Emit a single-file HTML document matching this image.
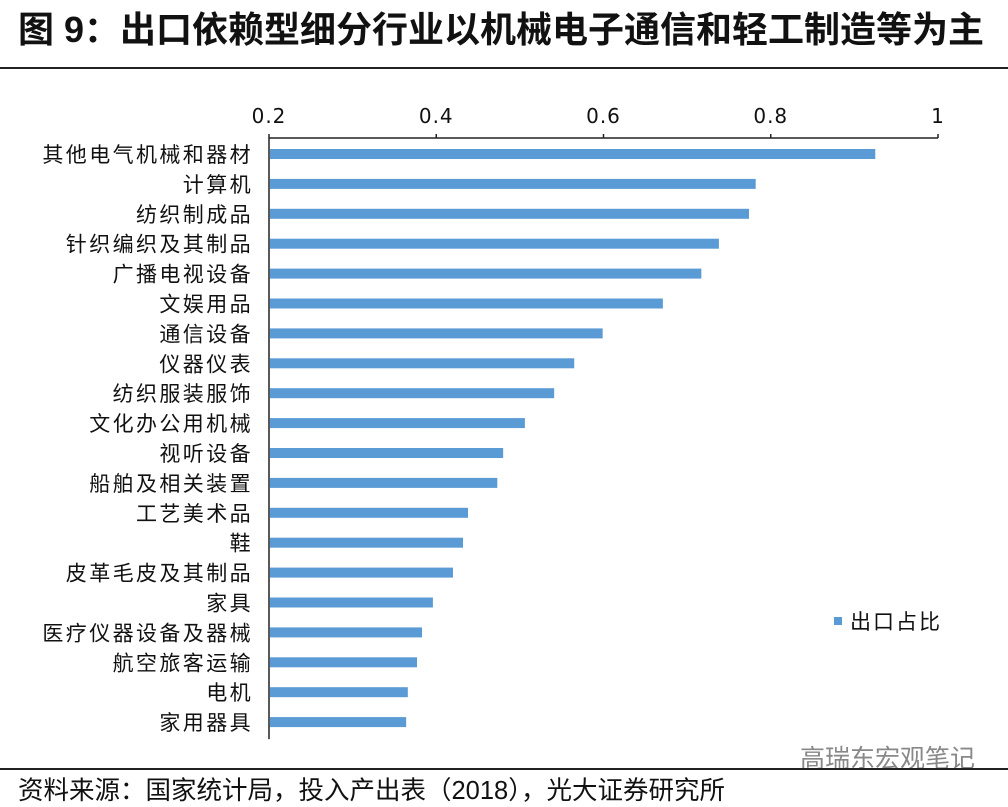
<!DOCTYPE html>
<html><head><meta charset="utf-8">
<style>
body{margin:0;background:#fff;width:1008px;height:806px;overflow:hidden;font-family:"Liberation Sans","Noto Sans CJK SC",sans-serif;}
#title{position:absolute;left:18px;top:1px;font-size:36px;font-weight:bold;color:#111;white-space:nowrap}
.rule{position:absolute;left:0;width:1008px;height:2px;background:#222}
#src{position:absolute;left:18px;top:770px;font-size:25.5px;color:#111;white-space:nowrap}
#wm{position:absolute;left:800px;top:739px;font-size:25px;color:#888;white-space:nowrap}
</style></head><body>
<div id="title">图 9：出口依赖型细分行业以机械电子通信和轻工制造等为主</div>
<div class="rule" style="top:67px"></div>
<svg id="chart" width="1008" height="806" style="position:absolute;left:0;top:0"></svg>
<div id="wm">高瑞东宏观笔记</div>
<div class="rule" style="top:768px"></div>
<div id="src">资料来源：国家统计局，投入产出表（2018），光大证券研究所</div>
<script>
const categories=["其他电气机械和器材","计算机","纺织制成品","针织编织及其制品","广播电视设备","文娱用品","通信设备","仪器仪表","纺织服装服饰","文化办公用机械","视听设备","船舶及相关装置","工艺美术品","鞋","皮革毛皮及其制品","家具","医疗仪器设备及器械","航空旅客运输","电机","家用器具"];
const values=[0.925,0.782,0.774,0.738,0.717,0.671,0.599,0.565,0.541,0.506,0.480,0.473,0.438,0.432,0.420,0.396,0.383,0.377,0.366,0.364];
const ticks=[0.2,0.4,0.6,0.8,1];
const tickLabels=["0.2","0.4","0.6","0.8","1"];
const seriesName="出口占比";
const NS="http://www.w3.org/2000/svg";
const svg=document.getElementById('chart');
const x0=269,x1=938,xmin=0.2,xmax=1,axisY=138;
const xs=v=>x0+(v-xmin)/(xmax-xmin)*(x1-x0);
const y0=154,step=29.9;
const ys=i=>y0+i*step;
function mk(t,a){const e=document.createElementNS(NS,t);for(const k in a)e.setAttribute(k,a[k]);svg.appendChild(e);return e;}
let e=mk('line',{x1:x0,x2:x1,y1:axisY,y2:axisY,stroke:'#222','stroke-width':1.5});


e=mk('line',{x1:x0,x2:x0,y1:axisY,y2:ys(categories.length-1)+17,stroke:'#222','stroke-width':1.5});


ticks.forEach((t,i)=>{
 const tk=mk('line',{x1:xs(t),x2:xs(t),y1:axisY-4,y2:axisY,stroke:'#222','stroke-width':1.5});
 
 
 const tx=mk('text',{x:xs(t),y:123,'text-anchor':'middle','font-size':20,fill:'#111','font-family':'"DejaVu Sans",sans-serif','letter-spacing':1});
 tx.textContent=tickLabels[i];
 
 
});
categories.forEach((c,i)=>{
 const y=ys(i);
 const b=mk('rect',{x:x0+1,y:y-5,width:xs(values[i])-x0-1,height:10,fill:'#5b9bd5'});
 
 
 const l=mk('text',{x:253,y:y+8,'text-anchor':'end','font-size':21,'letter-spacing':2.4,fill:'#111'});
 l.textContent=c;
 
 
});
e=mk('rect',{x:834,y:617,width:8,height:8,fill:'#5b9bd5'});


e=mk('text',{x:850,y:629,'font-size':21,'letter-spacing':2,fill:'#111'});
e.textContent=seriesName;


</script>
</body></html>
